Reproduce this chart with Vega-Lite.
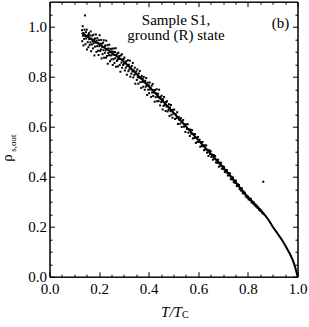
{
  "$schema": "https://vega.github.io/schema/vega-lite/v6.json",
  "width": 248,
  "height": 275,
  "autosize": {"type": "none"},
  "padding": {"left": 49.5, "top": 1.7, "right": 11.5, "bottom": 50.3},
  "background": "white",
  "config": {
    "view": {"stroke": "black", "strokeWidth": 1},
    "font": "Liberation Serif",
    "axis": {"labelFont": "Liberation Serif", "titleFont": "Liberation Serif"},
    "text": {"font": "Liberation Serif"}
  },
  "datasets": {
    "curve": [
      {"t": 0.13, "rho": 0.975}, {"t": 0.15, "rho": 0.962}, {"t": 0.2, "rho": 0.93}, {"t": 0.25, "rho": 0.897},
      {"t": 0.3, "rho": 0.86}, {"t": 0.35, "rho": 0.812}, {"t": 0.4, "rho": 0.762}, {"t": 0.45, "rho": 0.71},
      {"t": 0.5, "rho": 0.656}, {"t": 0.55, "rho": 0.601}, {"t": 0.6, "rho": 0.546}, {"t": 0.65, "rho": 0.492},
      {"t": 0.7, "rho": 0.437}, {"t": 0.75, "rho": 0.378}, {"t": 0.8, "rho": 0.318}, {"t": 0.85, "rho": 0.266},
      {"t": 0.88, "rho": 0.232}, {"t": 0.9, "rho": 0.2}, {"t": 0.92, "rho": 0.172}, {"t": 0.94, "rho": 0.143},
      {"t": 0.96, "rho": 0.108}, {"t": 0.97, "rho": 0.09}, {"t": 0.98, "rho": 0.068}, {"t": 0.985, "rho": 0.055},
      {"t": 0.99, "rho": 0.04}, {"t": 0.994, "rho": 0.026}, {"t": 0.997, "rho": 0.014}, {"t": 0.999, "rho": 0.005},
      {"t": 1.0, "rho": 0.0}
    ],
    "pts": [
      {"t":0.131,"rho":0.986},{"t":0.132,"rho":0.942},{"t":0.134,"rho":1.002},{"t":0.135,"rho":0.964},{"t":0.137,"rho":0.925},
      {"t":0.138,"rho":0.974},{"t":0.140,"rho":0.951},{"t":0.141,"rho":0.988},{"t":0.143,"rho":1.045},{"t":0.144,"rho":0.962},
      {"t":0.145,"rho":0.930},{"t":0.147,"rho":0.978},{"t":0.148,"rho":0.953},{"t":0.150,"rho":0.988},{"t":0.151,"rho":0.909},
      {"t":0.153,"rho":0.963},{"t":0.154,"rho":0.938},{"t":0.156,"rho":0.967},{"t":0.157,"rho":0.918},{"t":0.159,"rho":0.974},
      {"t":0.160,"rho":0.950},{"t":0.162,"rho":0.927},{"t":0.163,"rho":0.965},{"t":0.165,"rho":0.937},{"t":0.166,"rho":0.981},
      {"t":0.168,"rho":0.902},{"t":0.169,"rho":0.952},{"t":0.171,"rho":0.929},{"t":0.172,"rho":0.964},{"t":0.174,"rho":0.942},
      {"t":0.175,"rho":0.913},{"t":0.177,"rho":0.968},{"t":0.178,"rho":0.934},{"t":0.180,"rho":0.949},{"t":0.181,"rho":0.885},
      {"t":0.183,"rho":0.920},{"t":0.184,"rho":0.953},{"t":0.186,"rho":0.937},{"t":0.187,"rho":0.969},{"t":0.189,"rho":0.899},
      {"t":0.190,"rho":0.944},{"t":0.192,"rho":0.922},{"t":0.193,"rho":0.954},{"t":0.195,"rho":0.904},{"t":0.196,"rho":0.934},
      {"t":0.198,"rho":0.887},{"t":0.199,"rho":0.946},{"t":0.201,"rho":0.922},{"t":0.202,"rho":0.966},{"t":0.204,"rho":0.903},
      {"t":0.205,"rho":0.932},{"t":0.207,"rho":0.909},{"t":0.208,"rho":0.947},{"t":0.210,"rho":0.873},{"t":0.211,"rho":0.932},
      {"t":0.213,"rho":0.918},{"t":0.214,"rho":0.890},{"t":0.216,"rho":0.936},{"t":0.217,"rho":0.906},{"t":0.219,"rho":0.946},
      {"t":0.220,"rho":0.876},{"t":0.222,"rho":0.920},{"t":0.223,"rho":0.895},{"t":0.225,"rho":0.925},{"t":0.226,"rho":0.905},
      {"t":0.228,"rho":0.876},{"t":0.229,"rho":0.944},{"t":0.231,"rho":0.911},{"t":0.232,"rho":0.883},{"t":0.234,"rho":0.926},
      {"t":0.235,"rho":0.852},{"t":0.237,"rho":0.895},{"t":0.238,"rho":0.913},{"t":0.240,"rho":0.886},{"t":0.241,"rho":0.928},
      {"t":0.243,"rho":0.898},{"t":0.244,"rho":0.862},{"t":0.246,"rho":0.911},{"t":0.247,"rho":0.885},{"t":0.249,"rho":0.901},
      {"t":0.250,"rho":0.869},{"t":0.252,"rho":0.912},{"t":0.253,"rho":0.889},{"t":0.255,"rho":0.847},{"t":0.256,"rho":0.900},
      {"t":0.258,"rho":0.870},{"t":0.259,"rho":0.913},{"t":0.261,"rho":0.887},{"t":0.262,"rho":0.855},{"t":0.264,"rho":0.899},
      {"t":0.265,"rho":0.874},{"t":0.267,"rho":0.914},{"t":0.268,"rho":0.840},{"t":0.270,"rho":0.887},{"t":0.272,"rho":0.863},
      {"t":0.273,"rho":0.893},{"t":0.275,"rho":0.869},{"t":0.276,"rho":0.841},{"t":0.278,"rho":0.896},{"t":0.279,"rho":0.871},
      {"t":0.281,"rho":0.883},{"t":0.283,"rho":0.847},{"t":0.285,"rho":0.872},{"t":0.286,"rho":0.820},{"t":0.288,"rho":0.885},
      {"t":0.290,"rho":0.856},{"t":0.292,"rho":0.890},{"t":0.293,"rho":0.836},{"t":0.295,"rho":0.869},{"t":0.297,"rho":0.847},
      {"t":0.299,"rho":0.871},
      {"t":0.300,"rho":0.852},{"t":0.302,"rho":0.877},{"t":0.304,"rho":0.825},{"t":0.306,"rho":0.858},{"t":0.308,"rho":0.836},
      {"t":0.310,"rho":0.862},{"t":0.312,"rho":0.808},{"t":0.314,"rho":0.843},{"t":0.316,"rho":0.866},{"t":0.318,"rho":0.822},
      {"t":0.320,"rho":0.848},{"t":0.322,"rho":0.829},{"t":0.324,"rho":0.864},{"t":0.326,"rho":0.800},{"t":0.328,"rho":0.834},
      {"t":0.330,"rho":0.812},{"t":0.332,"rho":0.843},{"t":0.334,"rho":0.821},{"t":0.336,"rho":0.855},{"t":0.338,"rho":0.797},
      {"t":0.340,"rho":0.825},{"t":0.342,"rho":0.807},{"t":0.344,"rho":0.836},{"t":0.346,"rho":0.772},{"t":0.348,"rho":0.813},
      {"t":0.350,"rho":0.821},{"t":0.352,"rho":0.787},{"t":0.354,"rho":0.829},{"t":0.356,"rho":0.798},{"t":0.358,"rho":0.772},
      {"t":0.360,"rho":0.813},{"t":0.362,"rho":0.796},{"t":0.364,"rho":0.823},{"t":0.366,"rho":0.778},{"t":0.368,"rho":0.796},
      {"t":0.370,"rho":0.755},{"t":0.372,"rho":0.803},{"t":0.374,"rho":0.779},{"t":0.376,"rho":0.792},{"t":0.378,"rho":0.760},
      {"t":0.380,"rho":0.799},{"t":0.382,"rho":0.778},{"t":0.384,"rho":0.748},{"t":0.386,"rho":0.784},{"t":0.388,"rho":0.760},
      {"t":0.390,"rho":0.795},{"t":0.392,"rho":0.765},{"t":0.394,"rho":0.727},{"t":0.396,"rho":0.776},{"t":0.398,"rho":0.748},
      {"t":0.400,"rho":0.766},{"t":0.402,"rho":0.734},{"t":0.404,"rho":0.777},{"t":0.406,"rho":0.749},{"t":0.408,"rho":0.755},
      {"t":0.410,"rho":0.719},{"t":0.412,"rho":0.764},{"t":0.414,"rho":0.737},{"t":0.416,"rho":0.771},{"t":0.418,"rho":0.723},
      {"t":0.420,"rho":0.746},{"t":0.422,"rho":0.736},{"t":0.424,"rho":0.700},{"t":0.426,"rho":0.747},{"t":0.428,"rho":0.718},
      {"t":0.430,"rho":0.733},{"t":0.432,"rho":0.750},{"t":0.434,"rho":0.702},{"t":0.436,"rho":0.719},{"t":0.438,"rho":0.732},
      {"t":0.440,"rho":0.702},{"t":0.442,"rho":0.748},{"t":0.444,"rho":0.714},{"t":0.446,"rho":0.685},{"t":0.448,"rho":0.719},
      {"t":0.450,"rho":0.698},{"t":0.452,"rho":0.724},{"t":0.454,"rho":0.702},{"t":0.456,"rho":0.669},{"t":0.458,"rho":0.710},
      {"t":0.460,"rho":0.683},{"t":0.462,"rho":0.719},{"t":0.464,"rho":0.687},{"t":0.466,"rho":0.696},{"t":0.468,"rho":0.663},
      {"t":0.470,"rho":0.699},{"t":0.472,"rho":0.681},{"t":0.474,"rho":0.702},{"t":0.476,"rho":0.661},{"t":0.478,"rho":0.681},
      {"t":0.480,"rho":0.667},{"t":0.482,"rho":0.690},{"t":0.484,"rho":0.643},{"t":0.486,"rho":0.677},{"t":0.488,"rho":0.662},
      {"t":0.490,"rho":0.687},{"t":0.492,"rho":0.648},{"t":0.494,"rho":0.665},{"t":0.496,"rho":0.636},{"t":0.498,"rho":0.668},
      {"t":0.500,"rho":0.652},{"t":0.503,"rho":0.668},{"t":0.506,"rho":0.631},{"t":0.509,"rho":0.650},{"t":0.512,"rho":0.634},
      {"t":0.515,"rho":0.658},{"t":0.518,"rho":0.611},{"t":0.521,"rho":0.639},{"t":0.524,"rho":0.627},{"t":0.527,"rho":0.612},
      {"t":0.530,"rho":0.634},{"t":0.533,"rho":0.599},{"t":0.536,"rho":0.618},{"t":0.539,"rho":0.627},{"t":0.542,"rho":0.600},
      {"t":0.545,"rho":0.610},{"t":0.548,"rho":0.579},{"t":0.551,"rho":0.609},{"t":0.554,"rho":0.591},{"t":0.557,"rho":0.610},
      {"t":0.560,"rho":0.576},{"t":0.563,"rho":0.589},{"t":0.566,"rho":0.563},{"t":0.569,"rho":0.588},{"t":0.572,"rho":0.572},
      {"t":0.575,"rho":0.586},{"t":0.578,"rho":0.553},{"t":0.581,"rho":0.571},{"t":0.584,"rho":0.555},{"t":0.587,"rho":0.570},
      {"t":0.590,"rho":0.535},{"t":0.593,"rho":0.556},{"t":0.596,"rho":0.539},{"t":0.599,"rho":0.559},{"t":0.602,"rho":0.539},
      {"t":0.605,"rho":0.548},{"t":0.608,"rho":0.520},{"t":0.611,"rho":0.538},{"t":0.614,"rho":0.523},{"t":0.617,"rho":0.539},
      {"t":0.620,"rho":0.522},{"t":0.623,"rho":0.506},{"t":0.626,"rho":0.526},{"t":0.629,"rho":0.509},{"t":0.632,"rho":0.525},
      {"t":0.635,"rho":0.496},{"t":0.638,"rho":0.507},{"t":0.641,"rho":0.483},{"t":0.644,"rho":0.506},{"t":0.647,"rho":0.491},
      {"t":0.650,"rho":0.502},{"t":0.653,"rho":0.479},{"t":0.656,"rho":0.488},{"t":0.659,"rho":0.468},{"t":0.662,"rho":0.487},
      {"t":0.665,"rho":0.472},{"t":0.668,"rho":0.483},{"t":0.671,"rho":0.457},{"t":0.674,"rho":0.467},{"t":0.677,"rho":0.455},
      {"t":0.680,"rho":0.468},{"t":0.683,"rho":0.440},{"t":0.686,"rho":0.456},{"t":0.689,"rho":0.444},{"t":0.692,"rho":0.456},
      {"t":0.695,"rho":0.432},{"t":0.698,"rho":0.442},
      {"t":0.701,"rho":0.430},{"t":0.704,"rho":0.439},{"t":0.707,"rho":0.419},{"t":0.710,"rho":0.427},{"t":0.713,"rho":0.417},
      {"t":0.716,"rho":0.426},{"t":0.719,"rho":0.405},{"t":0.722,"rho":0.415},{"t":0.725,"rho":0.405},{"t":0.728,"rho":0.413},
      {"t":0.731,"rho":0.390},{"t":0.734,"rho":0.400},{"t":0.737,"rho":0.389},{"t":0.740,"rho":0.397},{"t":0.743,"rho":0.378},
      {"t":0.746,"rho":0.385},{"t":0.749,"rho":0.375},{"t":0.752,"rho":0.384},{"t":0.755,"rho":0.363},{"t":0.758,"rho":0.371},
      {"t":0.761,"rho":0.362},{"t":0.764,"rho":0.367},{"t":0.767,"rho":0.350},{"t":0.770,"rho":0.355},{"t":0.773,"rho":0.344},
      {"t":0.776,"rho":0.353},{"t":0.779,"rho":0.334},{"t":0.782,"rho":0.341},{"t":0.785,"rho":0.332},{"t":0.788,"rho":0.336},
      {"t":0.791,"rho":0.321},{"t":0.794,"rho":0.325},{"t":0.797,"rho":0.316},{"t":0.800,"rho":0.321},{"t":0.803,"rho":0.309},
      {"t":0.806,"rho":0.314},{"t":0.809,"rho":0.306},{"t":0.812,"rho":0.311},{"t":0.815,"rho":0.297},{"t":0.818,"rho":0.301},
      {"t":0.821,"rho":0.293},{"t":0.824,"rho":0.297},{"t":0.827,"rho":0.286},{"t":0.830,"rho":0.289},{"t":0.833,"rho":0.281},
      {"t":0.836,"rho":0.284},{"t":0.839,"rho":0.275},{"t":0.842,"rho":0.277},{"t":0.845,"rho":0.268},{"t":0.848,"rho":0.270},
      {"t":0.851,"rho":0.263},{"t":0.854,"rho":0.265},{"t":0.857,"rho":0.257},{"t":0.860,"rho":0.256},{"t":0.863,"rho":0.252},
      {"t":0.862,"rho":0.380}
    ]
  },
  "resolve": {"axis": {"x": "independent", "y": "independent"}},
  "layer": [
    {
      "data": {"name": "curve"},
      "mark": {"type": "line", "color": "black", "strokeWidth": 2, "interpolate": "monotone"},
      "encoding": {
        "x": {
          "field": "t", "type": "quantitative",
          "scale": {"domain": [0, 1], "nice": false, "zero": false},
          "axis": {
            "orient": "bottom",
            "values": [0,0.05,0.1,0.15,0.2,0.25,0.3,0.35,0.4,0.45,0.5,0.55,0.6,0.65,0.7,0.75,0.8,0.85,0.9,0.95,1.0],
            "labelExpr": "abs(datum.value*5-round(datum.value*5))<0.01 ? format(datum.value,'.1f') : ''",
            "tickSize": {"condition": {"test": "abs(datum.value*5-round(datum.value*5))<0.01", "value": -5}, "value": -2.5},
            "tickColor": "black", "domainColor": "black", "grid": false,
            "labelFont": "Liberation Serif", "labelFontSize": 15, "labelColor": "black",
            "labelFlush": false, "labelOverlap": false, "labelPadding": 10,
            "title": "T/T", "titleFont": "Liberation Serif", "titleFontSize": 15,
            "titleFontStyle": "italic", "titleFontWeight": "normal", "titleColor": "black",
            "titleX": 121.5, "titleY": 39.3, "titleBaseline": "alphabetic", "titleAlign": "center"
          }
        },
        "y": {
          "field": "rho", "type": "quantitative",
          "scale": {"domain": [0, 1.1], "nice": false, "zero": false},
          "axis": {
            "orient": "left",
            "values": [0,0.05,0.1,0.15,0.2,0.25,0.3,0.35,0.4,0.45,0.5,0.55,0.6,0.65,0.7,0.75,0.8,0.85,0.9,0.95,1.0,1.05],
            "labelExpr": "abs(datum.value*5-round(datum.value*5))<0.01 ? format(datum.value,'.1f') : ''",
            "tickSize": {"condition": {"test": "abs(datum.value*5-round(datum.value*5))<0.01", "value": -5}, "value": -2.5},
            "tickColor": "black", "domainColor": "black", "grid": false,
            "labelFont": "Liberation Serif", "labelFontSize": 15, "labelColor": "black",
            "labelFlush": false, "labelOverlap": false, "labelPadding": 8,
            "title": "ρ", "titleFont": "Liberation Serif", "titleFontSize": 15,
            "titleFontWeight": "normal", "titleColor": "black", "titleAngle": 270,
            "titleX": -38.5, "titleY": 155.8, "titleBaseline": "alphabetic", "titleAlign": "center"
          }
        }
      }
    },
    {
      "data": {"name": "pts"},
      "mark": {"type": "square", "color": "black", "filled": true, "size": 4, "opacity": 1},
      "encoding": {
        "x": {
          "field": "t", "type": "quantitative",
          "axis": {
            "orient": "top",
            "values": [0,0.05,0.1,0.15,0.2,0.25,0.3,0.35,0.4,0.45,0.5,0.55,0.6,0.65,0.7,0.75,0.8,0.85,0.9,0.95,1.0],
            "labels": false, "title": null, "grid": false,
            "tickSize": {"condition": {"test": "abs(datum.value*5-round(datum.value*5))<0.01", "value": -5}, "value": -2.5},
            "tickColor": "black", "domainColor": "black"
          }
        },
        "y": {
          "field": "rho", "type": "quantitative",
          "axis": {
            "orient": "right",
            "values": [0,0.05,0.1,0.15,0.2,0.25,0.3,0.35,0.4,0.45,0.5,0.55,0.6,0.65,0.7,0.75,0.8,0.85,0.9,0.95,1.0,1.05],
            "labels": false, "title": null, "grid": false,
            "tickSize": {"condition": {"test": "abs(datum.value*5-round(datum.value*5))<0.01", "value": -5}, "value": -2.5},
            "tickColor": "black", "domainColor": "black"
          }
        }
      }
    },
    {
      "data": {"values": [{}]},
      "mark": {"type": "text", "text": ["Sample S1,", "ground (R) state"], "font": "Liberation Serif", "fontSize": 15, "color": "black", "align": "center", "baseline": "alphabetic", "lineHeight": 15.5},
      "encoding": {
        "x": {"datum": 0.51, "type": "quantitative", "axis": null},
        "y": {"datum": 1.007, "type": "quantitative", "axis": null}
      }
    },
    {
      "data": {"values": [{}]},
      "mark": {"type": "text", "text": "(b)", "font": "Liberation Serif", "fontSize": 15, "color": "black", "align": "center", "baseline": "alphabetic"},
      "encoding": {
        "x": {"datum": 0.931, "type": "quantitative", "axis": null},
        "y": {"datum": 0.995, "type": "quantitative", "axis": null}
      }
    },
    {
      "data": {"values": [{}]},
      "mark": {"type": "text", "text": "C", "font": "Liberation Serif", "fontSize": 10, "color": "black", "align": "center", "baseline": "alphabetic"},
      "encoding": {
        "x": {"datum": 0.548, "type": "quantitative", "axis": null},
        "y": {"datum": -0.167, "type": "quantitative", "axis": null}
      }
    },
    {
      "data": {"values": [{}]},
      "mark": {"type": "text", "text": "s,out", "font": "Liberation Serif", "fontSize": 9, "color": "black", "align": "center", "baseline": "alphabetic", "angle": 270},
      "encoding": {
        "x": {"datum": -0.136, "type": "quantitative", "axis": null},
        "y": {"datum": 0.534, "type": "quantitative", "axis": null}
      }
    }
  ]
}
